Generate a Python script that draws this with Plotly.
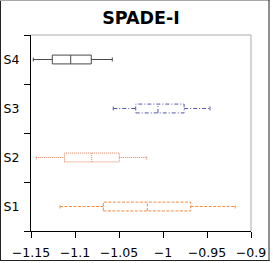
import plotly.graph_objects as go

categories = ["S1", "S2", "S3", "S4"]
lower = [-1.117, -1.144, -1.0565, -1.1474]
q1 = [-1.0678, -1.112, -1.031, -1.1258]
median = [-1.0178, -1.081, -1.0057, -1.1049]
q3 = [-0.9685, -1.0497, -0.976, -1.0815]
upper = [-0.918, -1.0185, -0.9466, -1.0576]
colors = ["#f58a42", "#d8845f", "#5658a8", "#4a4a4a"]
dashes = ["3px,1.5px", "1px,1px", "4px,2px,1px,2px", "solid"]
x_ticks = [-1.15, -1.1, -1.05, -1.0, -0.95, -0.9]

W, H = 273, 263
L, R, T, B = 31, 22, 35, 32
PW, PH = W - L - R, H - T - B

fig = go.Figure()
h = 0.09
c = 0.04
for i, name in enumerate(categories):
    xs = [q1[i], q3[i], q3[i], q1[i], q1[i], None,
          median[i], median[i], None,
          lower[i], q1[i], None, q3[i], upper[i], None,
          lower[i], lower[i], None, upper[i], upper[i]]
    ys = [i - h, i - h, i + h, i + h, i - h, None,
          i - h, i + h, None,
          i, i, None, i, i, None,
          i - c, i + c, None, i - c, i + c]
    fig.add_trace(go.Scatter(x=xs, y=ys, mode="lines", name=name,
                             line=dict(color=colors[i], width=1, dash=dashes[i]),
                             showlegend=False, hoverinfo="skip"))

def px_x(p):
    return (p - L) / PW

def px_y(p):
    return (H - B - p) / PH

shapes = [
    dict(type="line", xref="paper", yref="paper", x0=0, x1=1, y0=1, y1=1,
         line=dict(color="#aaaaaa", width=1)),
    dict(type="line", xref="paper", yref="paper", x0=1, x1=1, y0=0, y1=1,
         line=dict(color="#aaaaaa", width=1)),
    dict(type="line", xref="paper", yref="paper", x0=px_x(0.5), x1=px_x(0.5), y0=px_y(0), y1=px_y(261),
         line=dict(color="#222222", width=1)),
    dict(type="line", xref="paper", yref="paper", x0=px_x(0), x1=px_x(269.5), y0=px_y(0.5), y1=px_y(0.5),
         line=dict(color="#aaaaaa", width=1)),
    dict(type="line", xref="paper", yref="paper", x0=px_x(269), x1=px_x(269), y0=px_y(0), y1=px_y(261),
         line=dict(color="#222222", width=1)),
    dict(type="line", xref="paper", yref="paper", x0=px_x(0), x1=px_x(269.5), y0=px_y(260.5), y1=px_y(260.5),
         line=dict(color="#222222", width=1)),
]

fig.update_layout(
    width=W, height=H,
    margin=dict(l=L, r=R, t=T, b=B, autoexpand=False),
    paper_bgcolor="white", plot_bgcolor="white",
    font=dict(family="DejaVu Sans", size=12.5, color="black"),
    title=dict(text="<b>SPADE-I</b>", x=(L + PW / 2) / W, xanchor="center",
               y=1 - 18 / H, yanchor="middle", font=dict(size=17.5, color="black")),
    xaxis=dict(range=[x_ticks[0], x_ticks[-1]], tickvals=x_ticks, automargin=False,
               showgrid=False, zeroline=False, showline=True, linecolor="black",
               linewidth=1, ticks="outside", ticklen=6, tickcolor="black",
               ticklabelstandoff=4),
    yaxis=dict(range=[-0.5, len(categories) - 0.5], automargin=False,
               tickvals=list(range(len(categories))), ticktext=categories,
               ticks="outside", ticklen=6, tickcolor="rgba(0,0,0,0)",
               ticklabelstandoff=2,
               showgrid=False, zeroline=False, showline=True,
               linecolor="black", linewidth=1,
               minor=dict(tickvals=[k - 0.5 for k in range(len(categories) + 1)],
                          ticks="outside", ticklen=6, tickcolor="black", showgrid=False)),
    shapes=shapes,
)

fig.write_html("out.html", config={"displayModeBar": False},
               post_script="document.body.style.margin='0px';document.body.style.overflow='hidden';")
